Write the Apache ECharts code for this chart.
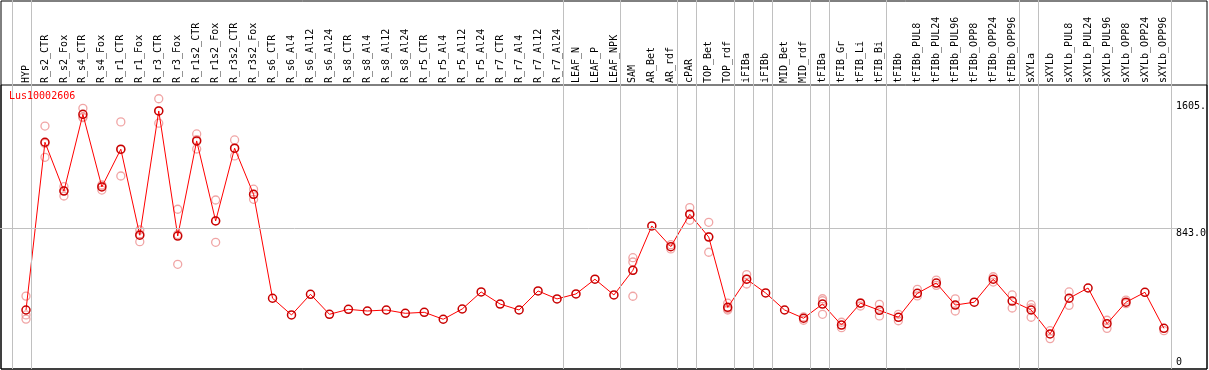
<!DOCTYPE html>
<html>
<head>
<meta charset="utf-8">
<script src="https://cdn.jsdelivr.net/npm/echarts@6/dist/echarts.min.js"></script>
<style>
html,body{margin:0;padding:0;background:#fff;}
#chart{width:1209px;height:370px;}
</style>
</head>
<body>
<div id="chart"></div>
<script>
// ---------- data ----------
const geneName = 'Lus10002606';
const categories = ['HYP','R_s2_CTR','R_s2_Fox','R_s4_CTR','R_s4_Fox','R_r1_CTR','R_r1_Fox','R_r3_CTR','R_r3_Fox',
  'R_r1s2_CTR','R_r1s2_Fox','R_r3s2_CTR','R_r3s2_Fox','R_s6_CTR','R_s6_Al4','R_s6_Al12','R_s6_Al24',
  'R_s8_CTR','R_s8_Al4','R_s8_Al12','R_s8_Al24','R_r5_CTR','R_r5_Al4','R_r5_Al12','R_r5_Al24',
  'R_r7_CTR','R_r7_Al4','R_r7_Al12','R_r7_Al24','LEAF_N','LEAF_P','LEAF_NPK','SAM','AR_Bet','AR_rdf',
  'cPAR','TOP_Bet','TOP_rdf','iFIBa','iFIBb','MID_Bet','MID_rdf','tFIBa','tFIB_Gr','tFIB_Li','tFIB_Bi',
  'tFIBb','tFIBb_PUL8','tFIBb_PUL24','tFIBb_PUL96','tFIBb_OPP8','tFIBb_OPP24','tFIBb_OPP96',
  'sXYLa','sXYLb','sXYLb_PUL8','sXYLb_PUL24','sXYLb_PUL96','sXYLb_OPP8','sXYLb_OPP24','sXYLb_OPP96'];
const means = [347,1361,1066,1530,1091,1319,799,1550,794,1369,885,1325,1046,418,317,442,321,
  351,341,347,327,333,291,353,456,383,347,462,414,444,533,438,587,855,730,
  926,788,363,533,450,347,297,383,256,388,345,
  303,448,510,377,394,533,401,347,202,418,480,264,394,454,236];
const replicates = [
  [431,317,292],[1459,1270,1354],[1093,1036,1069],[1566,1510,1514],[1097,1072,1103],
  [1484,1157,1316],[831,760,806],[1624,1476,1550],[956,623,803],[1411,1320,1376],
  [1012,756,887],[1375,1278,1322],[1077,1016,1045],
  [],[],[],[],[],[],[],[],[],[],[],[],[],[],[],[],[],[],[],
  [663,637,587,430],[],[716,742],[966,889,923],[877,696,791],[388,347,355],[561,504,534],
  [],[],[305,285],[415,403,321],[273,240],[391,371],[381,311],
  [282,321],[472,432],[528,496],[414,341],[],[548,516],[438,359],
  [379,303,360],[222,174],[456,375],[],[285,236],[407,385],[],[222]
];
const yTickValues = [0, 843, 1605];
const yTickLabels = {0: '0', 843: '843.0', 1605: '1605.'};
const groupDividersAfter = [-1,0,28,31,34,35,37,38,39,41,42,45,52,53,60];
const refLineValue = 843;

// ---------- layout ----------
const W = 1209, H = 370;
const DATA_LEFT = 26, DATA_RIGHT = 43, DATA_TOP = 85, DATA_BOTTOM = 2.6;
const Y_MAX = 1707;
const nCat = categories.length;
const pxPerCat = (W - DATA_LEFT - DATA_RIGHT) / (nCat - 1);
const pxPerUnit = (H - DATA_TOP - DATA_BOTTOM) / Y_MAX;
const OV_BOTTOM = 1;
const ovXMin = -DATA_LEFT / pxPerCat;
const ovXMax = (W - DATA_LEFT) / pxPerCat;
const zeroPx = H - DATA_BOTTOM;
const ovYMin = -((H - OV_BOTTOM) - zeroPx) / pxPerUnit;
const ovYMax = zeroPx / pxPerUnit;
const FONT = 'DejaVu Sans Mono';

const meanData = means.map((v, i) => [i, v]);
const repData = [];
replicates.forEach((arr, i) => arr.forEach(v => repData.push([i, v])));

const chart = echarts.init(document.getElementById('chart'), null, {renderer: 'canvas'});
chart.setOption({
  animation: false,
  backgroundColor: '#fff',
  title: {
    text: geneName, left: 9, top: 91, padding: 0,
    textStyle: {color: '#ff0000', fontSize: 10, fontWeight: 'normal', fontFamily: FONT}
  },
  grid: [
    {left: DATA_LEFT, right: DATA_RIGHT, top: DATA_TOP, bottom: DATA_BOTTOM},
    {left: 0, right: 0, top: 0, bottom: OV_BOTTOM},
    {left: 1, right: 2, top: 1, bottom: 1, show: true, borderColor: '#000', borderWidth: 1, backgroundColor: 'transparent'},
    {left: 1, right: 2, top: DATA_TOP, bottom: 1, show: true, borderColor: '#000', borderWidth: 1, backgroundColor: 'transparent'}
  ],
  xAxis: [
    {
      type: 'value', gridIndex: 0, min: 0, max: nCat - 1, interval: 1, position: 'top',
      axisLine: {show: false}, axisTick: {show: false}, splitLine: {show: false},
      axisLabel: {
        rotate: 90, margin: 2, fontFamily: FONT, fontSize: 10, color: '#000',
        showMinLabel: true, showMaxLabel: true,
        formatter: v => categories[v] || ''
      }
    },
    {type: 'value', gridIndex: 1, min: ovXMin, max: ovXMax, show: false},
    {type: 'value', gridIndex: 2, show: false},
    {type: 'value', gridIndex: 3, show: false}
  ],
  yAxis: [
    {
      type: 'value', gridIndex: 0, min: 0, max: Y_MAX, position: 'right',
      axisLine: {show: false}, axisTick: {show: false}, splitLine: {show: false},
      axisLabel: {
        customValues: yTickValues, margin: 12, align: 'left',
        verticalAlign: 'top', verticalAlignMinLabel: 'bottom',
        fontFamily: FONT, fontSize: 10, color: '#000',
        formatter: v => yTickLabels[v] !== undefined ? yTickLabels[v] : ''
      }
    },
    {type: 'value', gridIndex: 1, min: ovYMin, max: ovYMax, show: false},
    {type: 'value', gridIndex: 2, show: false},
    {type: 'value', gridIndex: 3, show: false}
  ],
  series: [
    {
      type: 'line', xAxisIndex: 1, yAxisIndex: 1, data: [], silent: true, z: 1,
      markLine: {
        silent: true, symbol: ['none', 'none'], animation: false,
        label: {show: false},
        lineStyle: {color: '#c0c0c0', type: 'solid', width: 1},
        data: groupDividersAfter.map(i => ({xAxis: i + 0.25})).concat([
          [{coord: [ovXMin, refLineValue]}, {coord: [nCat - 1 + 0.6, refLineValue]}]
        ])
      }
    },
    {
      type: 'scatter', xAxisIndex: 0, yAxisIndex: 0, data: repData, z: 2,
      symbol: 'circle', symbolSize: 8,
      itemStyle: {color: 'rgba(0,0,0,0)', borderColor: '#ec8e8e', borderWidth: 1.3}
    },
    {
      type: 'line', xAxisIndex: 0, yAxisIndex: 0, data: meanData, z: 3,
      symbol: 'circle', symbolSize: 8, showAllSymbol: true,
      lineStyle: {color: '#ff0000', width: 1},
      itemStyle: {color: 'rgba(0,0,0,0)', borderColor: '#c80000', borderWidth: 1.5}
    }
  ]
});
</script>
</body>
</html>
